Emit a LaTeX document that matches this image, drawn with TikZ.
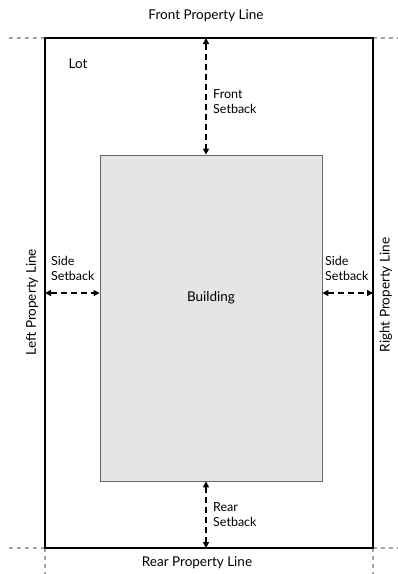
\documentclass[tikz,border=0pt]{standalone}
\usepackage{fontspec}
\setmainfont{Lato}
\usetikzlibrary{arrows.meta}
\begin{document}
\begin{tikzpicture}[x=1pt,y=-1pt,
  lotline/.style={line width=2pt,black},
  ext/.style={line width=1.5pt,gray!70,dash pattern=on 4pt off 4pt},
  setarrow/.style={line width=1.6pt,dash pattern=on 6pt off 4pt,{Triangle[length=6pt,width=6pt]}-{Triangle[length=6pt,width=6pt]}},
  lbl/.style={font=\fontsize{12.5}{15}\selectfont,align=left,inner sep=0pt},
  plbl/.style={font=\fontsize{13.5}{15}\selectfont,inner sep=0pt}]
\useasboundingbox (0,0) rectangle (398,574);
% lot corners
\coordinate (tl) at (45,38);
\coordinate (tr) at (373,38);
\coordinate (bl) at (45,548);
\coordinate (br) at (373,548);
% extensions
\draw[ext] (tl) -- (8,38);
\draw[ext] (tr) -- (398,38);
\draw[ext] (bl) -- (8,548);
\draw[ext] (br) -- (398,548);
\draw[ext] (bl) -- (45,574);
\draw[ext] (br) -- (373,574);
% building
\node[draw=gray!80!black,line width=0.8pt,fill=gray!20,minimum width=222pt,minimum height=326pt,inner sep=0pt] (bldg) at (211,318) {};
\node[plbl] (bt) at (211,298) {Building};
% lot
\draw[lotline] (tl) rectangle (br);
\node[plbl] (lot) at (78,64) {Lot};
% arrows
\coordinate (fa) at (206,38);
\coordinate (ra) at (206,548);
\coordinate (la) at (45,293);
\coordinate (rr) at (373,293);
\draw[setarrow] (fa) -- (bldg.north -| fa);
\draw[setarrow] (bldg.south -| ra) -- (ra);
\draw[setarrow] (la) -- (bldg.west |- la);
\draw[setarrow] (bldg.east |- rr) -- (rr);
\node[lbl,anchor=west] (ft) at (213,102) {Front\\Setback};
\node[lbl,anchor=west] (rt) at (213,515) {Rear\\Setback};
\node[lbl,anchor=west] (ls) at (51,268) {Side\\Setback};
\node[lbl,anchor=west] (rs) at (325,268) {Side\\Setback};
% property lines
\node[plbl] (fpl) at (206,16) {Front Property Line};
\node[plbl] (rpl) at (197,563) {Rear Property Line};
\node[plbl,rotate=90] (lpl) at (32,302) {Left Property Line};
\node[plbl,rotate=90] (rpl2) at (386,295) {Right Property Line};
\end{tikzpicture}
\end{document}
